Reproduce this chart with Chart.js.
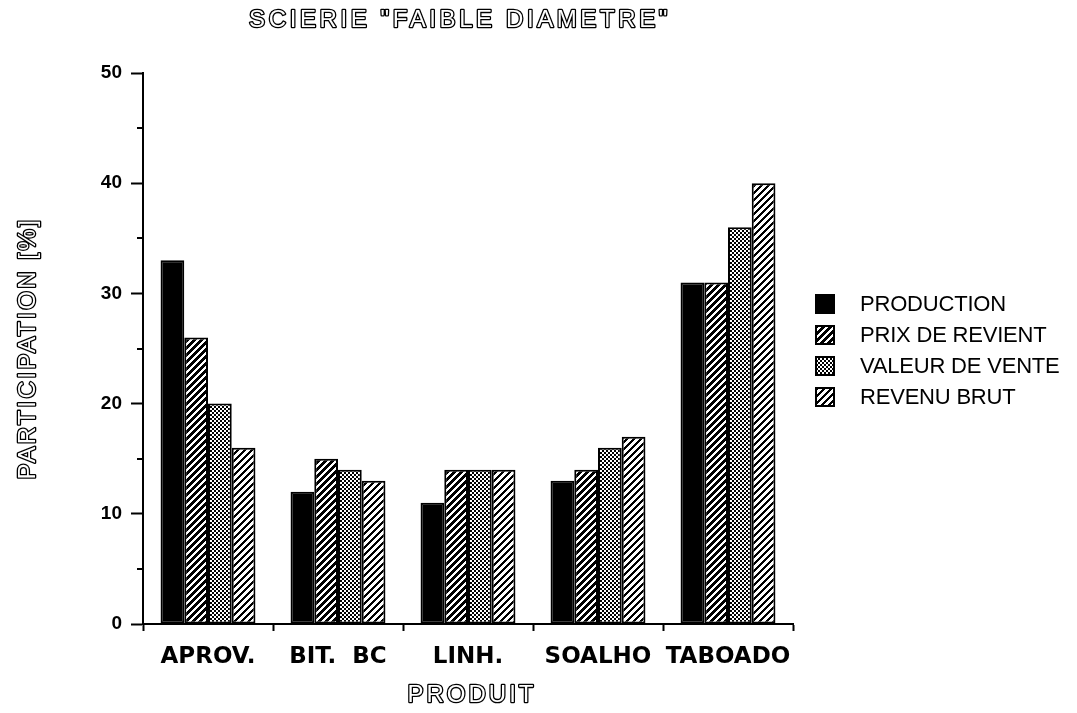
<!DOCTYPE html>
<html>
<head>
<meta charset="utf-8">
<script src="https://cdn.jsdelivr.net/npm/chart.js@4.4.1/dist/chart.umd.min.js"></script>
<style>
    html, body { margin: 0; padding: 0; background: #ffffff; }
    #wrap { width: 1077px; height: 713px; }
</style>
</head>
<body>
<div id="wrap"><canvas id="scierieChart" width="1077" height="713"></canvas></div>
<script>
// Répartition par produit (%)
const produits = ['APROV.', 'BIT.  BC', 'LINH.', 'SOALHO', 'TABOADO'];
const production = [33, 12, 11, 13, 31];
const prixDeRevient = [26, 15, 14, 14, 31];
const valeurDeVente = [20, 14, 14, 16, 36];
const revenuBrut = [16, 13, 14, 17, 40];
const yTicks = [0, 10, 20, 30, 40, 50];
const yMinorTicks = [5, 15, 25, 35, 45];

const canvas = document.getElementById('scierieChart');
const ctx = canvas.getContext('2d');

// motif noir et blanc, pixel par pixel
function makePattern(size, isBlack) {
    const tile = document.createElement('canvas');
    tile.width = size;
    tile.height = size;
    const g = tile.getContext('2d');
    g.fillStyle = '#ffffff';
    g.fillRect(0, 0, size, size);
    g.fillStyle = '#000000';
    for (let y = 0; y < size; y++) {
        for (let x = 0; x < size; x++) {
            if (isBlack(x, y)) g.fillRect(x, y, 1, 1);
        }
    }
    return ctx.createPattern(tile, 'repeat');
}

const hachureFoncee = makePattern(7, (x, y) => (x + y) % 7 < 4);
const pointille = makePattern(4, (x, y) => (Math.floor(x / 2) + Math.floor(y / 2)) % 2 === 0);
const hachureClaire = makePattern(7, (x, y) => (x + y) % 7 < 3);

// texte « contour » (blanc cerné de noir)
function outlinedText(c, text, x, y, size, spacing, angle) {
    c.save();
    c.translate(x, y);
    if (angle) c.rotate(angle);
    c.font = `${size}px "Liberation Sans", Arial, sans-serif`;
    c.letterSpacing = `${spacing}px`;
    c.textAlign = 'center';
    c.textBaseline = 'middle';
    c.lineJoin = 'round';
    c.lineWidth = 2.6;
    c.strokeStyle = '#000000';
    c.strokeText(text, 0, 0);
    c.fillStyle = '#ffffff';
    c.fillText(text, 0, 0);
    c.restore();
}

const decorPlugin = {
    id: 'decor',
    afterDraw(chart) {
        const c = chart.ctx;
        const area = chart.chartArea;
        const yScale = chart.scales.y;

        // petites graduations intermédiaires
        c.save();
        c.strokeStyle = '#000000';
        c.lineWidth = 2;
        yMinorTicks.forEach((v) => {
            const py = Math.round(yScale.getPixelForValue(v));
            c.beginPath();
            c.moveTo(area.left - 6, py);
            c.lineTo(area.left, py);
            c.stroke();
        });
        c.restore();

        // titres
        outlinedText(c, 'SCIERIE "FAIBLE DIAMETRE"', 460, 20, 24, 3.6);
        outlinedText(c, 'PARTICIPATION [%]', 28, (area.top + area.bottom) / 2, 24, 2.5, -Math.PI / 2);
        outlinedText(c, 'PRODUIT', (area.left + area.right) / 2 + 4, 695, 24, 3);

        // légende
        c.save();
        const boxX = area.right + 22;
        const textX = area.right + 67;
        const rowY = 304;
        const rowGap = 31;
        const box = 20;
        c.font = '22px "Liberation Sans", Arial, sans-serif';
        c.letterSpacing = '-0.2px';
        c.textBaseline = 'middle';
        c.textAlign = 'left';
        chart.data.datasets.forEach((ds, i) => {
            const cy = rowY + i * rowGap;
            c.fillStyle = ds.backgroundColor;
            c.fillRect(boxX, cy - box / 2, box, box);
            c.strokeStyle = '#000000';
            c.lineWidth = 2;
            c.strokeRect(boxX + 1, cy - box / 2 + 1, box - 2, box - 2);
            c.fillStyle = '#000000';
            c.fillText(ds.label, textX, cy + 1);
        });
        c.restore();
    },
};

const barBase = {
    borderColor: '#000000',
    borderWidth: 2,
    borderSkipped: false,
    categoryPercentage: 0.73,
    barPercentage: 1.0,
};

new Chart(ctx, {
    type: 'bar',
    data: {
        labels: produits,
        datasets: [
            { ...barBase, label: 'PRODUCTION', data: production, backgroundColor: '#000000' },
            { ...barBase, label: 'PRIX DE REVIENT', data: prixDeRevient, backgroundColor: hachureFoncee },
            { ...barBase, label: 'VALEUR DE VENTE', data: valeurDeVente, backgroundColor: pointille },
            { ...barBase, label: 'REVENU BRUT', data: revenuBrut, backgroundColor: hachureClaire },
        ],
    },
    options: {
        responsive: false,
        devicePixelRatio: 1,
        animation: false,
        layout: { padding: { top: 73, right: 284, bottom: 0, left: 0 } },
        plugins: {
            legend: { display: false },
            tooltip: { enabled: false },
            title: { display: false },
        },
        scales: {
            x: {
                offset: true,
                border: { display: true, color: '#000000', width: 2 },
                grid: {
                    offset: true,
                    drawOnChartArea: false,
                    drawTicks: true,
                    tickLength: 7,
                    tickWidth: 2,
                    color: '#000000',
                },
                ticks: {
                    color: '#000000',
                    padding: 12,
                    maxRotation: 0,
                    autoSkip: false,
                    font: { family: '"DejaVu Sans", sans-serif', size: 23, weight: 'bold' },
                },
                afterFit(scale) {
                    scale.height = 89;
                },
            },
            y: {
                min: 0,
                max: 50,
                border: { display: true, color: '#000000', width: 2 },
                grid: {
                    drawOnChartArea: false,
                    drawTicks: true,
                    tickLength: 12,
                    tickWidth: 2,
                    color: '#000000',
                },
                ticks: {
                    color: '#000000',
                    padding: 9,
                    font: { family: '"Liberation Sans", Arial, sans-serif', size: 19, weight: 'bold' },
                },
                afterBuildTicks(scale) {
                    scale.ticks = yTicks.map((v) => ({ value: v }));
                },
                afterFit(scale) {
                    scale.width = 143;
                },
            },
        },
    },
    plugins: [decorPlugin],
});
</script>
</body>
</html>
